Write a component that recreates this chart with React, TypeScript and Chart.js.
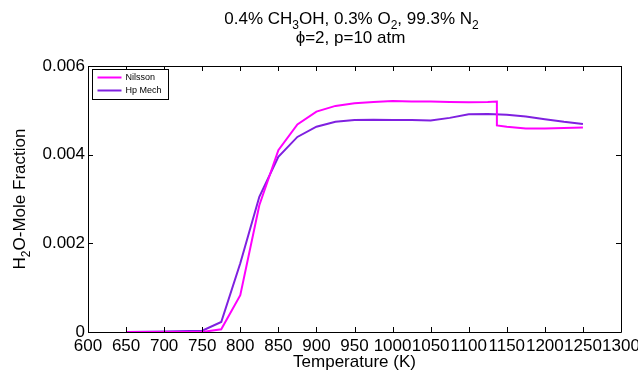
import React, { useEffect, useRef } from "react";
import { Chart, registerables } from "chart.js";

Chart.register(...registerables);

const nilssonT = [650, 700, 750, 775, 800, 825, 850, 875, 900, 925, 950, 975, 1000, 1025, 1050, 1075, 1100, 1125, 1137, 1137, 1150, 1175, 1200, 1225, 1250];
const nilssonY = [0, 0, 0, 0.00006, 0.00083, 0.00286, 0.0041, 0.00468, 0.00497, 0.0051, 0.00516, 0.00519, 0.00521, 0.0052, 0.0052, 0.00519, 0.00518, 0.00519, 0.0052, 0.00466, 0.00463, 0.00459, 0.00459, 0.0046, 0.00461];

const hpT = [650, 700, 750, 775, 800, 825, 850, 875, 900, 925, 950, 975, 1000, 1025, 1050, 1075, 1100, 1125, 1150, 1175, 1200, 1225, 1250];
const hpY = [0, 0.00001, 0.00003, 0.000225, 0.00155, 0.00305, 0.00395, 0.0044, 0.00463, 0.00474, 0.00478, 0.00479, 0.00478, 0.00478, 0.00477, 0.00483, 0.00491, 0.00492, 0.0049, 0.00486, 0.0048, 0.00474, 0.00469];

const seriesNames = ["Nilsson", "Hp Mech"];
const seriesColors = ["#ff00ff", "#7f20e0"];

const xMin = 600, xMax = 1300, xStep = 50;
const yMin = 0, yMax = 0.006, yStep = 0.002;

const FONT = "Arial, 'Liberation Sans', Helvetica, sans-serif";

type Seg = { t: string; sub?: boolean };

function drawRich(ctx: CanvasRenderingContext2D, segs: Seg[], cx: number, y: number, size: number) {
  const subSize = Math.round(size * 0.72);
  let total = 0;
  for (const s of segs) {
    ctx.font = `${s.sub ? subSize : size}px ${FONT}`;
    total += ctx.measureText(s.t).width;
  }
  let x = cx - total / 2;
  ctx.textAlign = "left";
  ctx.textBaseline = "alphabetic";
  for (const s of segs) {
    ctx.font = `${s.sub ? subSize : size}px ${FONT}`;
    ctx.fillText(s.t, x, s.sub ? y + size * 0.3 : y);
    x += ctx.measureText(s.t).width;
  }
}

const decorPlugin = {
  id: "decor",
  afterDraw(chart: any) {
    const ctx: CanvasRenderingContext2D = chart.ctx;
    const { left, right, top, bottom } = chart.chartArea;
    const xs = chart.scales.x;
    const ys = chart.scales.y;
    ctx.save();
    ctx.strokeStyle = "#000";
    ctx.lineWidth = 1;
    ctx.beginPath();
    ctx.rect(Math.round(left) + 0.5, Math.round(top) + 0.5, Math.round(right - left), Math.round(bottom - top));
    ctx.stroke();
    const tl = 5;
    ctx.beginPath();
    for (const t of xs.ticks) {
      const px = Math.round(xs.getPixelForValue(t.value)) + 0.5;
      ctx.moveTo(px, bottom);
      ctx.lineTo(px, bottom - tl);
      ctx.moveTo(px, top);
      ctx.lineTo(px, top + tl);
    }
    for (const t of ys.ticks) {
      const py = Math.round(ys.getPixelForValue(t.value)) + 0.5;
      ctx.moveTo(left, py);
      ctx.lineTo(left + tl, py);
      ctx.moveTo(right, py);
      ctx.lineTo(right - tl, py);
    }
    ctx.stroke();

    // titles
    ctx.fillStyle = "#000";
    const cx = (left + right) / 2;
    drawRich(ctx, [
      { t: "0.4% CH" }, { t: "3", sub: true }, { t: "OH, 0.3% O" }, { t: "2", sub: true }, { t: ", 99.3% N" }, { t: "2", sub: true },
    ], cx - 3, 24, 17);
    drawRich(ctx, [{ t: "\u03D5=2, p=10 atm" }], cx - 4, 43, 17);

    // x title
    drawRich(ctx, [{ t: "Temperature (K)" }], cx, 367, 17);

    // y title
    ctx.save();
    ctx.translate(25, (top + bottom) / 2);
    ctx.rotate(-Math.PI / 2);
    drawRich(ctx, [{ t: "H" }, { t: "2", sub: true }, { t: "O-Mole Fraction" }], 0, 0, 17);
    ctx.restore();

    // legend
    const lx = Math.round(left) + 4.5, ly = Math.round(top) + 3.5;
    const lw = 76, lh = 30;
    ctx.fillStyle = "#fff";
    ctx.fillRect(lx, ly, lw, lh);
    ctx.strokeStyle = "#000";
    ctx.lineWidth = 1;
    ctx.strokeRect(lx, ly, lw, lh);
    ctx.font = `9px ${FONT}`;
    ctx.textBaseline = "middle";
    ctx.textAlign = "left";
    seriesNames.forEach((name, i) => {
      const yy = ly + 8 + i * 13;
      ctx.strokeStyle = seriesColors[i];
      ctx.lineWidth = 2;
      ctx.beginPath();
      ctx.moveTo(lx + 5, yy);
      ctx.lineTo(lx + 29, yy);
      ctx.stroke();
      ctx.fillStyle = "#000";
      ctx.fillText(name, lx + 33, yy + 0.5);
    });
    ctx.restore();
  },
};

export default function App() {
  const ref = useRef<HTMLCanvasElement | null>(null);
  useEffect(() => {
    if (!ref.current) return;
    const chart = new Chart(ref.current, {
      type: "scatter",
      data: {
        datasets: [
          {
            label: seriesNames[0],
            data: nilssonT.map((x, i) => ({ x, y: nilssonY[i] })),
            showLine: true,
            borderColor: seriesColors[0],
            backgroundColor: seriesColors[0],
            borderWidth: 2,
            pointRadius: 0,
            tension: 0,
          },
          {
            label: seriesNames[1],
            data: hpT.map((x, i) => ({ x, y: hpY[i] })),
            showLine: true,
            borderColor: seriesColors[1],
            backgroundColor: seriesColors[1],
            borderWidth: 2,
            pointRadius: 0,
            tension: 0,
          },
        ],
      },
      options: {
        responsive: false,
        animation: false,
        devicePixelRatio: 1,
        layout: { padding: { top: 66, right: 17, left: 0, bottom: 0 } },
        plugins: { legend: { display: false }, title: { display: false }, tooltip: { enabled: false } },
        scales: {
          x: {
            type: "linear",
            min: xMin,
            max: xMax,
            grid: { display: false, drawTicks: false },
            border: { display: false },
            ticks: {
              stepSize: xStep,
              autoSkip: false,
              maxRotation: 0,
              minRotation: 0,
              padding: 4,
              color: "#000",
              font: { family: FONT, size: 17 },
              callback: (v: any) => String(v),
            },
            afterFit: (s: any) => {
              s.height = 42;
              s.paddingLeft = 0;
              s.paddingRight = 0;
            },
          },
          y: {
            type: "linear",
            min: yMin,
            max: yMax,
            grid: { display: false, drawTicks: false },
            border: { display: false },
            ticks: {
              stepSize: yStep,
              padding: 3,
              color: "#000",
              font: { family: FONT, size: 17 },
              callback: (v: any) => (Number(v) === 0 ? "0" : Number(v).toFixed(3)),
            },
            afterFit: (s: any) => {
              s.width = 88;
              s.paddingTop = 0;
              s.paddingBottom = 0;
            },
          },
        },
      },
      plugins: [decorPlugin],
    });
    return () => chart.destroy();
  }, []);
  return (
    <div style={{ position: "fixed", left: 0, top: 0, width: 638, height: 374, background: "#fff" }}>
      <canvas ref={ref} width={638} height={374} />
    </div>
  );
}
